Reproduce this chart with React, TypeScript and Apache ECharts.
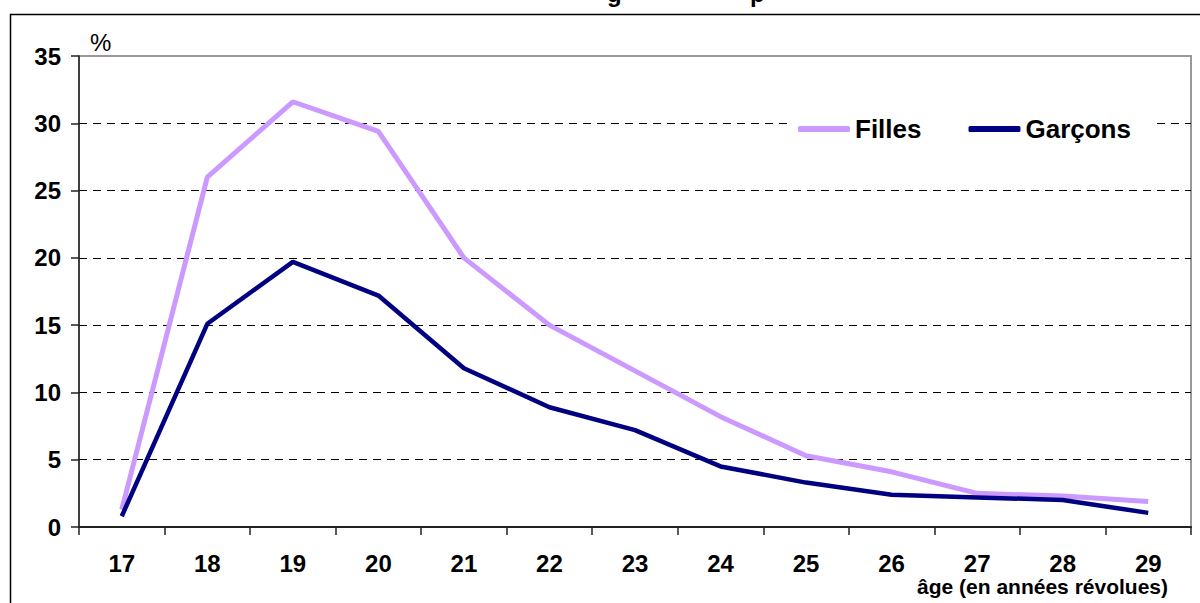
import React, { useEffect, useRef } from "react";
import * as echarts from "echarts";

const ages = ["17", "18", "19", "20", "21", "22", "23", "24", "25", "26", "27", "28", "29"];
const filles = [1.3, 26.0, 31.6, 29.4, 20.0, 15.0, 11.6, 8.2, 5.3, 4.1, 2.5, 2.3, 1.9];
const garcons = [0.8, 15.1, 19.7, 17.2, 11.8, 8.9, 7.2, 4.5, 3.3, 2.4, 2.2, 2.0, 1.05];
const yTicks = { min: 0, max: 35, interval: 5 };

const FONT = "'Liberation Sans', Arial, sans-serif";

export default function App() {
  const ref = useRef<HTMLDivElement>(null);
  useEffect(() => {
    if (!ref.current) return;
    const chart = echarts.init(ref.current, null, { renderer: "svg" });
    chart.setOption({
      animation: false,
      backgroundColor: "#fff",
      textStyle: { fontFamily: FONT },
      grid: {
        left: 79,
        top: 56,
        right: 9,
        bottom: 76,
        show: true,
        borderColor: "#999",
        borderWidth: 2,
        backgroundColor: "transparent",
      },
      legend: {
        left: 788,
        top: 110,
        padding: [6, 24, 6, 10],
        backgroundColor: "#fff",
        icon: "roundRect",
        itemWidth: 52,
        itemHeight: 6,
        itemGap: 47,
        textStyle: { fontFamily: FONT, fontSize: 26, fontWeight: "bold", color: "#000" },
        data: ["Filles", "Garçons"],
      },
      xAxis: {
        type: "category",
        data: ages,
        boundaryGap: true,
        axisLine: { lineStyle: { color: "#222", width: 2 } },
        axisTick: { show: true, length: 8, lineStyle: { color: "#222", width: 1.5 } },
        axisLabel: { color: "#000", fontSize: 24, fontWeight: "bold", fontFamily: FONT, margin: 24 },
        splitLine: { show: false },
      },
      yAxis: {
        type: "value",
        min: yTicks.min,
        max: yTicks.max,
        interval: yTicks.interval,
        axisLine: { show: true, lineStyle: { color: "#222", width: 1.5 } },
        axisTick: { show: true, length: 8, lineStyle: { color: "#222", width: 1.5 } },
        axisLabel: { color: "#000", fontSize: 24, fontWeight: "bold", fontFamily: FONT, margin: 18 },
        splitLine: {
          show: true,
          showMinLine: false,
          showMaxLine: false,
          lineStyle: { color: "#000", type: [8, 6], width: 1 },
        },
      },
      series: [
        {
          name: "Filles",
          type: "line",
          data: filles,
          symbol: "none",
          lineStyle: { color: "#CC99FF", width: 5 },
          itemStyle: { color: "#CC99FF" },
          z: 3,
        },
        {
          name: "Garçons",
          type: "line",
          data: garcons,
          symbol: "none",
          lineStyle: { color: "#000080", width: 4.5 },
          itemStyle: { color: "#000080" },
          z: 4,
        },
      ],
      graphic: [
        {
          type: "rect",
          shape: { x: 10.5, y: 14.5, width: 1200, height: 600 },
          style: { fill: "none", stroke: "#000", lineWidth: 1.5 },
          silent: true,
          z: 0,
        },
        {
          type: "text",
          x: 607,
          y: 5,
          style: { text: "g", font: `bold 24px ${FONT}`, fill: "#000", verticalAlign: "bottom" },
        },
        {
          type: "text",
          x: 750,
          y: 5,
          style: { text: "p", font: `bold 24px ${FONT}`, fill: "#000", verticalAlign: "bottom" },
        },
        {
          type: "text",
          x: 90,
          y: 30,
          style: { text: "%", font: `24px ${FONT}`, fill: "#000" },
        },
        {
          type: "text",
          right: 32,
          top: 576,
          style: { text: "âge (en années révolues)", font: `bold 21px ${FONT}`, fill: "#000" },
        },
      ],
    });
    return () => chart.dispose();
  }, []);
  return (
    <div
      ref={ref}
      style={{ position: "fixed", left: 0, top: 0, width: 1200, height: 603 }}
    />
  );
}
